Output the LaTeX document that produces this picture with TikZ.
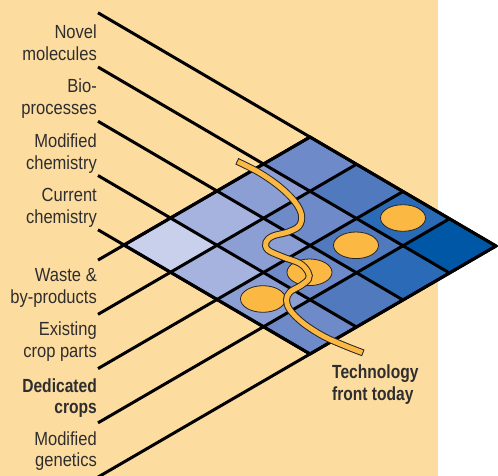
\documentclass[tikz,border=0pt]{standalone}
\usepackage{fontspec}
\setmainfont[FakeStretch=0.87,BoldFeatures={FakeStretch=0.82}]{Liberation Sans}
\usetikzlibrary{shapes.geometric}
\definecolor{bg}{RGB}{253,220,160}
\definecolor{cell0}{HTML}{C8D0EB}
\definecolor{cell1}{HTML}{A5B3DE}
\definecolor{cell2}{HTML}{8B9FD4}
\definecolor{cell3}{HTML}{6F8AC8}
\definecolor{cell4}{HTML}{5179BE}
\definecolor{cell5}{HTML}{2A6AB7}
\definecolor{cell6}{HTML}{0057A6}
\definecolor{orng}{HTML}{FBB843}
\definecolor{txt}{HTML}{2E2E2E}
\tikzset{
  gridline/.style={line width=3pt, black},
  lbl/.style={font=\fontsize{19}{21.7}\selectfont, text=txt, align=right, inner sep=0pt, anchor=base east},
  blob/.style={ellipse, draw=black!85, line width=0.8pt, fill=orng, minimum width=45pt, minimum height=26.6pt, inner sep=0pt},
}
\begin{document}
\begin{tikzpicture}[x=1pt,y=-1pt]
\useasboundingbox (0,0) rectangle (498,476);
\fill[white] (0,0) rectangle (498,476);
\fill[bg] (0,0) rectangle (438,476);
% cells
\foreach \i in {0,...,3}{
  \foreach \j in {0,...,3}{
    \pgfmathtruncatemacro\s{\i+\j}
    \fill[cell\s] ({124+46.5*(\i+\j)},{245-27*\i+27.25*\j}) -- ++(46.5,-27) -- ++(46.5,27.25) -- ++(-46.5,27) -- cycle;
  }
}
% grid lines
\foreach \k in {0,...,4}{
  \coordinate (d\k s) at (98,{229.77-54.25*\k});
  \coordinate (d\k e) at ({310+46.5*\k},{354-27*\k});
  \draw[gridline] (d\k s) -- (d\k e);
  \coordinate (a\k s) at (98,{260.1+54.25*\k});
  \coordinate (a\k e) at ({310+46.5*\k},{137+27.25*\k});
  \draw[gridline] (a\k s) -- (a\k e);
}
\coordinate (L) at (124,245);
\coordinate (T) at (310,137);
\coordinate (R) at (496,246);
\coordinate (B) at (310,354);
\draw[gridline, line join=miter] (L) -- (T) -- (R) -- (B) -- cycle;
% ellipses
\node[blob] (e0) at (263,299) {};
\node[blob] (e1) at (309.5,272.3) {};
\node[blob] (e2) at (356,245.3) {};
\node[blob] (e3) at (403,218) {};
% technology front tube
\def\tubepath{plot[smooth,tension=0.6] coordinates{(240,162.7) (260,173) (280,187) (295,202) (301.5,215) (299,226) (288,232) (273,236) (266,242) (268,250) (283,257) (300,263.5) (308,272) (308.5,279) (301,285.5) (290,292) (286.5,300) (290,310) (303,323) (323,336) (343,345) (360,351.7)}}
\draw[black!85, line width=7pt, line cap=rect] \tubepath;
\draw[orng, line width=5pt, line cap=rect] \tubepath;
% labels (anchor at baseline of the last line)
\node[lbl] (nm) at (97,60.7) {Novel\\molecules};
\node[lbl] (bp) at (97,114.7) {Bio-\\processes};
\node[lbl] (mc) at (97,169) {Modified\\chemistry};
\node[lbl] (cc) at (97,223.2) {Current\\chemistry};
\node[lbl] (wb) at (97,303.4) {Waste \&\\by-products};
\node[lbl] (ec) at (97,357.6) {Existing\\crop parts};
\node[lbl, font=\fontsize{19}{21.7}\selectfont\bfseries] (dc) at (97,413.7) {Dedicated\\crops};
\node[lbl] (mg) at (97,466.7) {Modified\\genetics};
\node[lbl, font=\fontsize{19}{21.7}\selectfont\bfseries, align=left, anchor=base west] (tf) at (332,400) {Technology\\front today};
\end{tikzpicture}
\end{document}
